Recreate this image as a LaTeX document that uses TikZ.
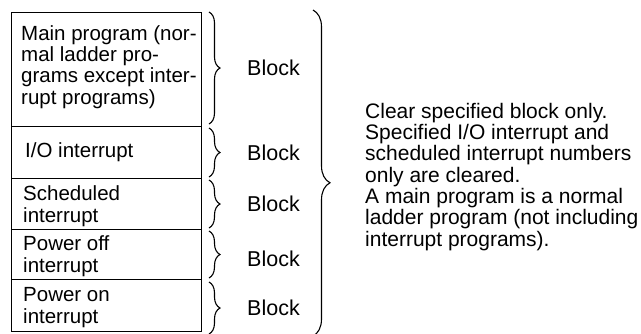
\documentclass[tikz,border=0pt]{standalone}
\usepackage{fontspec}
\setmainfont{Liberation Sans}
\usetikzlibrary{decorations.pathreplacing}
\begin{document}
\begin{tikzpicture}[x=1pt,y=-1pt,
  row/.style={draw,line width=1.3pt,minimum width=190pt,anchor=north west,inner sep=0pt},
  rowtxt/.style={anchor=base west,inner sep=0pt,align=left,font=\fontsize{20.5}{21.3}\selectfont},
  lbl/.style={font=\fontsize{21.5}{21}\selectfont,inner sep=0pt},
  brc/.style={draw,line width=1.1pt,decorate,decoration={brace,amplitude=#1}}]
\useasboundingbox (0,0) rectangle (641,333);
\node[row,minimum height=114pt] (r1) at (11,12) {};
\node[row,minimum height=52pt] (r2) at (11,126) {};
\node[row,minimum height=51pt] (r3) at (11,178) {};
\node[row,minimum height=50pt] (r4) at (11,229) {};
\node[row,minimum height=52pt] (r5) at (11,279) {};
% base anchor = baseline of the last line
\node[rowtxt] (t1) at (21,104) {Main program (nor-\\mal ladder pro-\\grams except inter-\\rupt programs)};
\node[rowtxt] (t2) at (25,157) {I/O interrupt};
\node[rowtxt] (t3) at (23,222) {Scheduled\\interrupt};
\node[rowtxt] (t4) at (23,272) {Power off\\interrupt};
\node[rowtxt] (t5) at (23,323) {Power on\\interrupt};
\coordinate (b1t) at (209,12);  \coordinate (b1b) at (209,124);
\coordinate (b2t) at (209,128); \coordinate (b2b) at (209,177);
\coordinate (b3t) at (209,180); \coordinate (b3b) at (209,228);
\coordinate (b4t) at (209,231); \coordinate (b4b) at (209,278);
\coordinate (b5t) at (209,282); \coordinate (b5b) at (209,334);
\draw[brc=11pt] (b1t) -- (b1b);
\draw[brc=11pt] (b2t) -- (b2b);
\draw[brc=11pt] (b3t) -- (b3b);
\draw[brc=11pt] (b4t) -- (b4b);
\draw[brc=11pt] (b5t) -- (b5b);
\node[lbl,anchor=west] (k1) at (247,68) {Block};
\node[lbl,anchor=west] (k2) at (247,153) {Block};
\node[lbl,anchor=west] (k3) at (247,204) {Block};
\node[lbl,anchor=west] (k4) at (247,259) {Block};
\node[lbl,anchor=west] (k5) at (247,308) {Block};
\coordinate (bt) at (313,10); \coordinate (bb) at (313,336);
\draw[line width=1.1pt,decorate,decoration={brace,amplitude=17pt,aspect=0.53}] (bt) -- (bb);
\node[lbl,anchor=base west,align=left,font=\fontsize{21}{21.3}\selectfont] (txt) at (365,246)
 {Clear specified block only.\\Specified I/O interrupt and\\scheduled interrupt numbers\\only are cleared.\\A main program is a normal\\ladder program (not including\\interrupt programs).};
\end{tikzpicture}
\end{document}
